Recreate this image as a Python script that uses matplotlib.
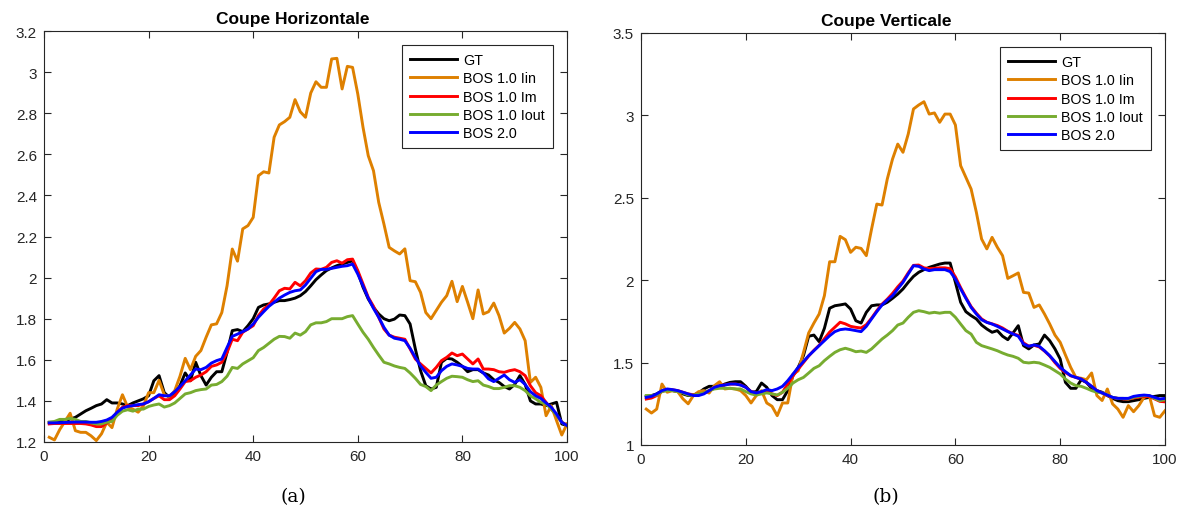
import matplotlib
matplotlib.use('Agg')
import matplotlib.pyplot as plt
import numpy as np
from matplotlib.ticker import FormatStrFormatter

x = np.arange(1, 101)

labels = ['GT', 'BOS 1.0 Iin', 'BOS 1.0 Im', 'BOS 1.0 Iout', 'BOS 2.0']
colors = ['black', '#DE8000', 'red', '#77AC30', 'blue']

# coupe horizontale
h_gt = [1.296,1.296,1.30,1.304,1.312,1.32,1.336,1.352,1.364,1.377,
        1.385,1.406,1.39,1.39,1.385,1.377,1.39,1.40,1.41,1.425,
        1.498,1.523,1.44,1.417,1.44,1.474,1.536,1.498,1.588,1.523,
        1.477,1.515,1.542,1.542,1.636,1.742,1.747,1.737,1.766,1.80,
        1.855,1.867,1.872,1.88,1.888,1.888,1.893,1.90,1.912,1.932,
        1.96,1.99,2.013,2.034,2.047,2.058,2.066,2.074,2.082,2.026,
        1.953,1.896,1.855,1.823,1.80,1.79,1.798,1.818,1.815,1.774,
        1.653,1.547,1.474,1.458,1.466,1.588,1.607,1.604,1.588,1.568,
        1.542,1.552,1.552,1.536,1.526,1.503,1.49,1.47,1.458,1.48,
        1.523,1.48,1.40,1.385,1.385,1.377,1.385,1.393,1.288,1.28]
h_lin = [1.223,1.21,1.26,1.30,1.34,1.255,1.247,1.247,1.23,1.207,
         1.24,1.296,1.27,1.36,1.43,1.37,1.36,1.345,1.375,1.44,
         1.44,1.50,1.43,1.42,1.45,1.52,1.607,1.552,1.617,1.645,
         1.71,1.77,1.775,1.83,1.96,2.139,2.08,2.237,2.253,2.293,
         2.496,2.515,2.509,2.683,2.743,2.759,2.78,2.866,2.807,2.78,
         2.898,2.953,2.926,2.926,3.064,3.067,2.918,3.028,3.023,2.893,
         2.731,2.593,2.52,2.366,2.26,2.147,2.13,2.115,2.14,1.985,
         1.98,1.928,1.83,1.80,1.84,1.88,1.912,1.982,1.883,1.957,
         1.88,1.80,1.94,1.823,1.834,1.876,1.815,1.73,1.753,1.782,
         1.75,1.693,1.49,1.515,1.466,1.328,1.377,1.304,1.234,1.288]
h_lm = [1.288,1.29,1.29,1.29,1.29,1.29,1.29,1.288,1.283,1.275,
        1.275,1.293,1.31,1.344,1.369,1.377,1.377,1.377,1.385,1.396,
        1.412,1.425,1.406,1.406,1.425,1.458,1.494,1.498,1.515,1.526,
        1.542,1.568,1.575,1.588,1.636,1.70,1.693,1.734,1.75,1.766,
        1.815,1.847,1.867,1.90,1.936,1.948,1.945,1.977,1.96,1.985,
        2.022,2.042,2.04,2.05,2.074,2.082,2.07,2.087,2.09,2.034,
        1.969,1.904,1.86,1.807,1.75,1.72,1.71,1.705,1.70,1.653,
        1.604,1.58,1.558,1.536,1.563,1.596,1.612,1.633,1.62,1.628,
        1.604,1.58,1.604,1.555,1.555,1.552,1.542,1.539,1.547,1.552,
        1.542,1.523,1.474,1.44,1.425,1.393,1.36,1.331,1.296,1.283]
h_lout = [1.296,1.30,1.31,1.31,1.315,1.31,1.30,1.30,1.293,1.288,
          1.288,1.296,1.30,1.33,1.35,1.357,1.35,1.36,1.36,1.373,
          1.38,1.385,1.37,1.377,1.39,1.412,1.434,1.44,1.45,1.455,
          1.458,1.477,1.48,1.494,1.52,1.563,1.558,1.58,1.595,1.61,
          1.645,1.66,1.68,1.70,1.714,1.713,1.705,1.73,1.72,1.737,
          1.77,1.78,1.78,1.786,1.80,1.80,1.80,1.81,1.815,1.774,
          1.734,1.70,1.66,1.623,1.588,1.58,1.57,1.563,1.558,1.536,
          1.51,1.48,1.47,1.45,1.477,1.494,1.51,1.52,1.518,1.515,
          1.503,1.494,1.498,1.477,1.47,1.46,1.46,1.466,1.474,1.474,
          1.466,1.45,1.425,1.41,1.393,1.385,1.36,1.33,1.296,1.28]
h_bos2 = [1.293,1.293,1.294,1.295,1.296,1.297,1.297,1.297,1.296,1.296,
          1.30,1.307,1.32,1.345,1.365,1.373,1.377,1.382,1.385,1.396,
          1.412,1.43,1.425,1.425,1.445,1.47,1.498,1.526,1.555,1.552,
          1.563,1.584,1.596,1.604,1.66,1.714,1.725,1.737,1.75,1.774,
          1.807,1.834,1.86,1.88,1.90,1.915,1.928,1.936,1.94,1.964,
          1.997,2.029,2.04,2.04,2.045,2.05,2.055,2.058,2.066,2.017,
          1.96,1.90,1.85,1.807,1.758,1.72,1.705,1.70,1.693,1.656,
          1.612,1.57,1.539,1.51,1.515,1.547,1.568,1.58,1.575,1.568,
          1.558,1.555,1.555,1.536,1.507,1.494,1.51,1.526,1.503,1.49,
          1.503,1.48,1.445,1.425,1.412,1.39,1.369,1.336,1.296,1.28]

# coupe verticale
v_gt = [1.295,1.30,1.31,1.33,1.336,1.33,1.324,1.31,1.30,1.303,
        1.316,1.34,1.356,1.356,1.356,1.37,1.38,1.384,1.384,1.356,
        1.32,1.324,1.376,1.35,1.30,1.275,1.275,1.33,1.42,1.471,
        1.542,1.66,1.667,1.627,1.708,1.83,1.845,1.85,1.856,1.825,
        1.754,1.74,1.805,1.845,1.85,1.85,1.866,1.89,1.916,1.947,
        1.987,2.023,2.048,2.064,2.078,2.088,2.098,2.104,2.104,1.987,
        1.866,1.809,1.785,1.765,1.728,1.704,1.684,1.694,1.66,1.639,
        1.68,1.724,1.603,1.583,1.607,1.613,1.667,1.633,1.583,1.522,
        1.38,1.344,1.344,1.396,1.38,1.344,1.33,1.32,1.30,1.283,
        1.269,1.263,1.263,1.269,1.275,1.283,1.289,1.295,1.30,1.30]
v_lin = [1.218,1.194,1.218,1.37,1.32,1.33,1.324,1.28,1.25,1.30,
         1.324,1.33,1.315,1.36,1.384,1.34,1.344,1.34,1.33,1.30,
         1.255,1.30,1.33,1.255,1.235,1.178,1.255,1.255,1.43,1.45,
         1.56,1.68,1.74,1.795,1.906,2.112,2.112,2.266,2.246,2.169,
         2.20,2.193,2.149,2.31,2.462,2.456,2.614,2.735,2.826,2.776,
         2.887,3.039,3.063,3.083,3.008,3.015,2.958,3.008,3.008,2.942,
         2.695,2.624,2.553,2.412,2.25,2.19,2.26,2.20,2.149,2.011,
         2.027,2.044,1.926,1.922,1.835,1.85,1.795,1.734,1.667,1.623,
         1.546,1.471,1.41,1.405,1.396,1.437,1.30,1.27,1.34,1.249,
         1.218,1.168,1.239,1.202,1.239,1.289,1.30,1.178,1.168,1.208]
v_lm = [1.279,1.285,1.30,1.325,1.335,1.335,1.33,1.32,1.31,1.305,
        1.31,1.315,1.33,1.345,1.36,1.365,1.37,1.37,1.365,1.35,
        1.325,1.315,1.32,1.325,1.31,1.30,1.32,1.37,1.42,1.46,
        1.50,1.54,1.575,1.605,1.645,1.685,1.715,1.745,1.735,1.72,
        1.714,1.71,1.73,1.77,1.815,1.855,1.885,1.92,1.96,1.995,
        2.045,2.09,2.092,2.075,2.07,2.072,2.075,2.075,2.07,2.02,
        1.955,1.895,1.84,1.80,1.765,1.745,1.735,1.725,1.71,1.69,
        1.675,1.665,1.62,1.60,1.605,1.595,1.57,1.54,1.50,1.465,
        1.44,1.42,1.41,1.40,1.38,1.355,1.33,1.315,1.30,1.288,
        1.283,1.28,1.278,1.285,1.29,1.295,1.295,1.28,1.265,1.262]
v_lout = [1.30,1.30,1.303,1.324,1.33,1.33,1.324,1.316,1.303,1.303,
          1.31,1.316,1.33,1.34,1.344,1.344,1.344,1.34,1.34,1.324,
          1.31,1.303,1.31,1.316,1.31,1.303,1.32,1.344,1.376,1.396,
          1.41,1.437,1.465,1.481,1.512,1.538,1.562,1.578,1.587,1.578,
          1.566,1.57,1.562,1.583,1.613,1.643,1.667,1.694,1.728,1.74,
          1.775,1.805,1.815,1.809,1.80,1.805,1.80,1.805,1.805,1.775,
          1.734,1.694,1.673,1.623,1.603,1.593,1.583,1.572,1.558,1.546,
          1.538,1.526,1.502,1.498,1.502,1.498,1.485,1.471,1.451,1.431,
          1.40,1.376,1.36,1.356,1.344,1.33,1.32,1.316,1.303,1.289,
          1.283,1.283,1.279,1.289,1.295,1.30,1.30,1.283,1.269,1.275]
v_bos2 = [1.289,1.295,1.31,1.33,1.34,1.336,1.33,1.32,1.31,1.30,
          1.30,1.31,1.33,1.35,1.36,1.364,1.37,1.37,1.364,1.35,
          1.324,1.316,1.324,1.336,1.33,1.34,1.356,1.39,1.43,1.471,
          1.506,1.542,1.572,1.603,1.633,1.663,1.688,1.70,1.704,1.70,
          1.694,1.688,1.72,1.765,1.809,1.85,1.88,1.906,1.947,1.987,
          2.038,2.088,2.084,2.068,2.058,2.064,2.064,2.064,2.052,2.007,
          1.947,1.89,1.835,1.795,1.76,1.744,1.734,1.72,1.704,1.688,
          1.674,1.66,1.613,1.599,1.607,1.599,1.572,1.542,1.506,1.471,
          1.445,1.421,1.41,1.40,1.38,1.356,1.33,1.316,1.303,1.289,
          1.283,1.283,1.283,1.295,1.30,1.303,1.30,1.289,1.279,1.283]

plt.rcParams['font.family'] = ['Liberation Sans', 'DejaVu Sans']

fig = plt.figure(figsize=(11.78, 5.10), dpi=100)
ax1 = fig.add_axes([44/1178, 67/510, 523/1178, 411/510])
ax2 = fig.add_axes([641/1178, 64/510, 524/1178, 412/510])

panels = [
    (ax1, [h_gt, h_lin, h_lm, h_lout, h_bos2], 'Coupe Horizontale', (1.2, 3.2), np.arange(1.2, 3.21, 0.2), '(a)', 293),
    (ax2, [v_gt, v_lin, v_lm, v_lout, v_bos2], 'Coupe Verticale', (1.0, 3.5), np.arange(1.0, 3.51, 0.5), '(b)', 886),
]

for ax, series, title, ylim, yticks, tag, cx in panels:
    for ys, c, lab in zip(series, colors, labels):
        ax.plot(x, ys, color=c, lw=2.1, label=lab)
    ax.set_xlim(0, 100)
    ax.set_ylim(*ylim)
    ax.set_xticks(np.arange(0, 101, 20))
    ax.set_yticks(yticks)
    ax.yaxis.set_major_formatter(FormatStrFormatter('%g'))
    ax.tick_params(direction='in', top=True, right=True, length=5, width=0.8,
                   labelsize=11, labelcolor='#262626', color='#262626', pad=5)
    for s in ax.spines.values():
        s.set_color('#262626')
        s.set_linewidth(0.8)
    # titre un peu a gauche du centre, comme dans la figure d'origine
    pos = ax.get_position()
    ax.set_title(title, fontsize=12.5, fontweight='bold',
                 x=(cx / 1178 - pos.x0) / pos.width, pad=6)
    leg = ax.legend(loc='upper right', fontsize=10.3, frameon=True, fancybox=False,
                    framealpha=1, edgecolor='#262626', handlelength=3.3,
                    borderaxespad=1.0, labelspacing=0.3, borderpad=0.55,
                    handletextpad=0.45)
    leg.get_frame().set_linewidth(0.8)
    fig.text(cx / 1178, 1 - 497 / 510, tag, ha='center', va='center',
             fontsize=13.5, family=['DejaVu Serif'])

fig.savefig('out.png', dpi=100)
